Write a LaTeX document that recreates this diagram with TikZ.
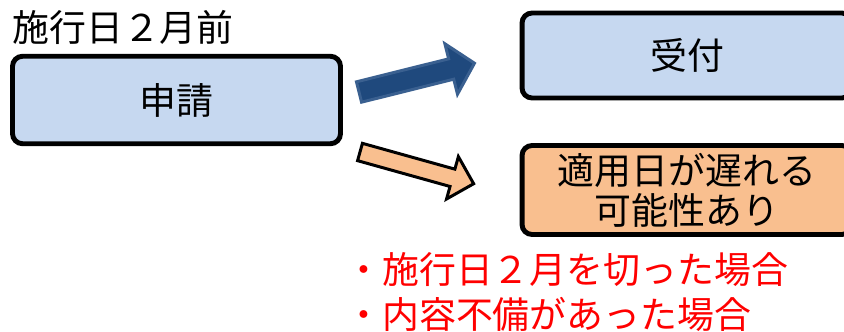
\documentclass[tikz,border=0pt]{standalone}
\usepackage{fontspec}
\setmainfont{Noto Sans CJK JP}
\definecolor{boxblue}{HTML}{C6D8F0}
\definecolor{boxorange}{HTML}{F9BF8F}
\definecolor{arrowblue}{HTML}{1F497D}
\definecolor{arrowedge}{HTML}{3A6090}
\definecolor{notered}{HTML}{FF0000}
\tikzset{
  stepbox/.style={draw=black, line width=2.8pt, rounded corners=0.2cm,
    align=center, font=\fontsize{21pt}{22.7pt}\selectfont},
  bigtext/.style={font=\fontsize{21pt}{25.5pt}\selectfont, inner sep=0pt}
}
\begin{document}
\begin{tikzpicture}[x=0.02cm, y=-0.02cm]

    % Page frame
    \useasboundingbox (0,0) rectangle (844,331);
    \clip (0,0) rectangle (844,331);

    % Define the points
    \coordinate (T1) at (359,92);
    \coordinate (T2) at (360,152);

    % Draw the boxes
    \node[stepbox, fill=boxblue, minimum width=6.56cm, minimum height=1.75cm] (apply) at (176.5,100) {申請};
    \node[stepbox, fill=boxblue, minimum width=6.6cm, minimum height=1.7cm] (accept) at (687,55.5) {受付};
    \node[stepbox, fill=boxorange, minimum width=6.6cm, minimum height=1.78cm] (late) at (687,190) {適用日が遅れる\\可能性あり};

    % Label above the box
    \node[bigtext, anchor=west] (before) at (12,27) {施行日２月前};

    % Draw the arrows
    \begin{scope}[shift={(T1)}, rotate=14]
      \filldraw[fill=arrowblue, draw=arrowedge, line width=1.7pt, line join=miter]
        (0,-10.5) -- (95,-10.5) -- (95,-26) -- (119,0) -- (95,26) -- (95,10.5) -- (0,10.5) -- cycle;
    \end{scope}
    \begin{scope}[shift={(T2)}, rotate=-15.6]
      \filldraw[fill=boxorange, draw=black, line width=1.7pt, line join=miter]
        (0,-9) -- (96,-9) -- (96,-22) -- (118,0) -- (96,22) -- (96,9) -- (0,9) -- cycle;
    \end{scope}

    % Notes in red
    \node[bigtext, text=notered, anchor=west, align=left] (notes) at (345,292) {・施行日２月を切った場合\\・内容不備があった場合};

\end{tikzpicture}
\end{document}
